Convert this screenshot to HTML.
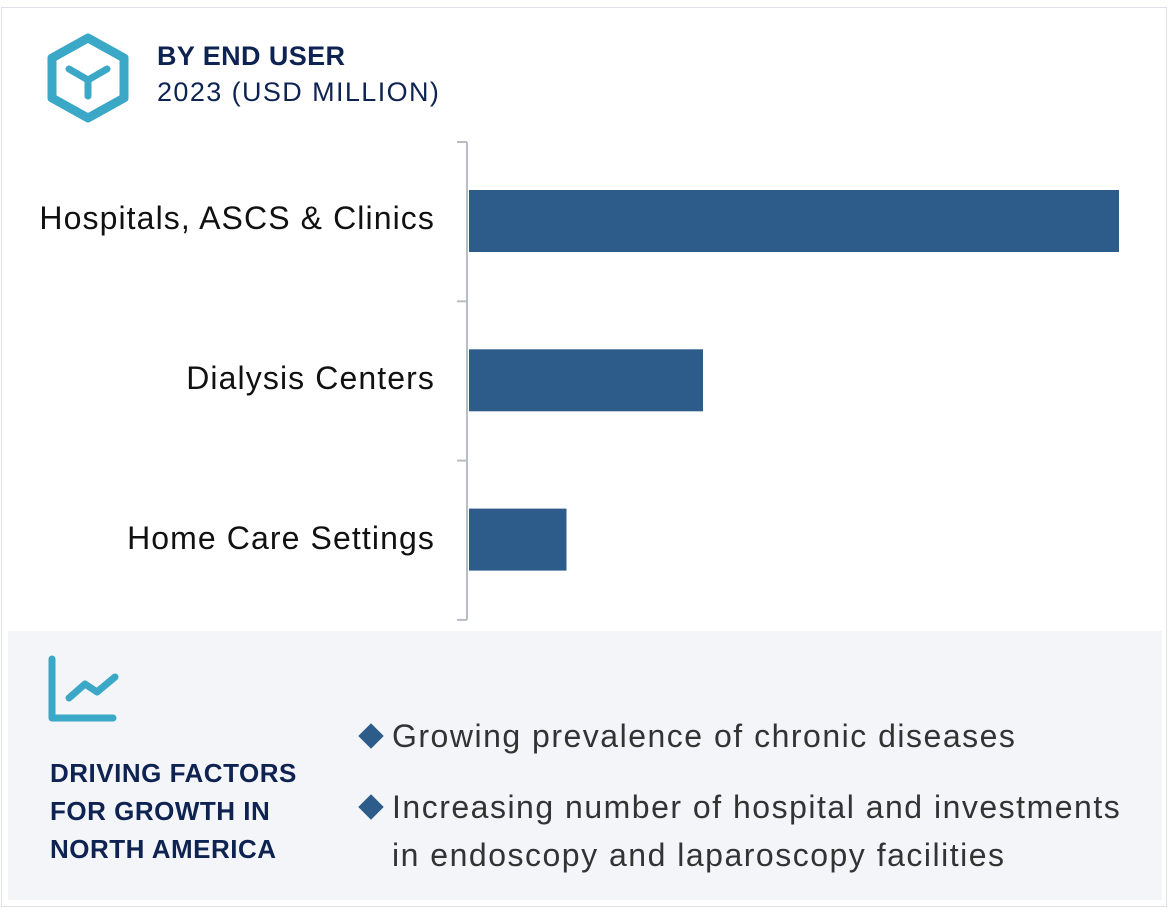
<!DOCTYPE html>
<html><head><meta charset="utf-8"><style>
body{margin:0;width:1170px;height:910px;background:#fff;font-family:"Liberation Sans",sans-serif;position:relative;overflow:hidden}
.frame{position:absolute;left:1px;top:7px;width:1166px;height:900px;border:1px solid #dfe2e8;box-sizing:border-box}
.t1{position:absolute;left:157px;top:41px;font-size:27px;font-weight:bold;color:#0f2352;letter-spacing:0.4px}
.t2{position:absolute;left:157px;top:77px;font-size:27px;color:#0f2352;letter-spacing:1.4px}
.lab{position:absolute;right:735px;font-size:32px;color:#111;white-space:nowrap;letter-spacing:1.1px}
.panel{position:absolute;left:8px;top:631px;width:1154px;height:269px;background:#f3f5f9}
.df{position:absolute;left:50px;top:754px;font-size:26px;font-weight:bold;color:#0f2352;line-height:38px;letter-spacing:0.5px}
.bul{position:absolute;left:392px;font-size:32px;color:#333;line-height:48px;letter-spacing:1.5px;white-space:nowrap}
.dia{position:absolute;left:362px;width:18px;height:18px;background:#2d5c8a;transform:rotate(45deg)}
</style></head><body>
<div class="frame"></div>
<svg style="position:absolute;left:45px;top:33px" width="86" height="90" viewBox="0 0 86 90">
<polygon points="43,5 79,25 79,65 43,85 7,65 7,25" fill="none" stroke="#3aa8c6" stroke-width="9" stroke-linejoin="round"/>
<path d="M24,36 L43,47 L62,36 M43,47 L43,63" fill="none" stroke="#3aa8c6" stroke-width="7" stroke-linecap="round"/>
</svg>
<div class="t1">BY END USER</div>
<div class="t2">2023 (USD MILLION)</div>
<svg id="chart" style="position:absolute;left:0;top:0" width="1170" height="630"></svg>
<div class="lab" style="top:200px">Hospitals, ASCS &amp; Clinics</div>
<div class="lab" style="top:360px">Dialysis Centers</div>
<div class="lab" style="top:520px">Home Care Settings</div>
<div class="panel"></div>
<svg style="position:absolute;left:45px;top:652px" width="80" height="75">
<path d="M7,7 L7,66 L68,66" fill="none" stroke="#3aa8c6" stroke-width="7" stroke-linecap="round" stroke-linejoin="round"/>
<path d="M24,46 L40,32 L52,40 L70,25" fill="none" stroke="#3aa8c6" stroke-width="7" stroke-linecap="round" stroke-linejoin="round"/>
</svg>
<div class="df">DRIVING FACTORS<br>FOR GROWTH IN<br>NORTH AMERICA</div>
<div class="dia" style="top:727px"></div>
<div class="bul" style="top:712px">Growing prevalence of chronic diseases</div>
<div class="dia" style="top:798px"></div>
<div class="bul" style="top:783px">Increasing number of hospital and investments<br>in endoscopy and laparoscopy facilities</div>
<script>
const categories=["Hospitals, ASCS & Clinics","Dialysis Centers","Home Care Settings"];
const values=[100,36,15];
const svg=document.getElementById('chart');
const NS='http://www.w3.org/2000/svg';
const x0=469,xMax=1119,vMax=100,y0=142,band=159.3;
const xs=v=>x0+(v/vMax)*(xMax-x0);
const ys=i=>y0+i*band;
function mk(t,a){const e=document.createElementNS(NS,t);for(const k in a)e.setAttribute(k,a[k]);svg.appendChild(e);return e;}
const ax=mk('line',{x1:467,y1:y0,x2:467,y2:y0+band*3,stroke:'#b8bcc4','stroke-width':2});


for(let i=0;i<=categories.length;i++){
 const t=mk('line',{x1:457,x2:467,y1:ys(i),y2:ys(i),stroke:'#b8bcc4','stroke-width':2});
 
 
}
values.forEach((v,i)=>{
 const r=mk('rect',{x:x0,y:ys(i)+48,width:xs(v)-x0,height:62,fill:'#2d5c8a'});
 
 
});
</script>
</body></html>
